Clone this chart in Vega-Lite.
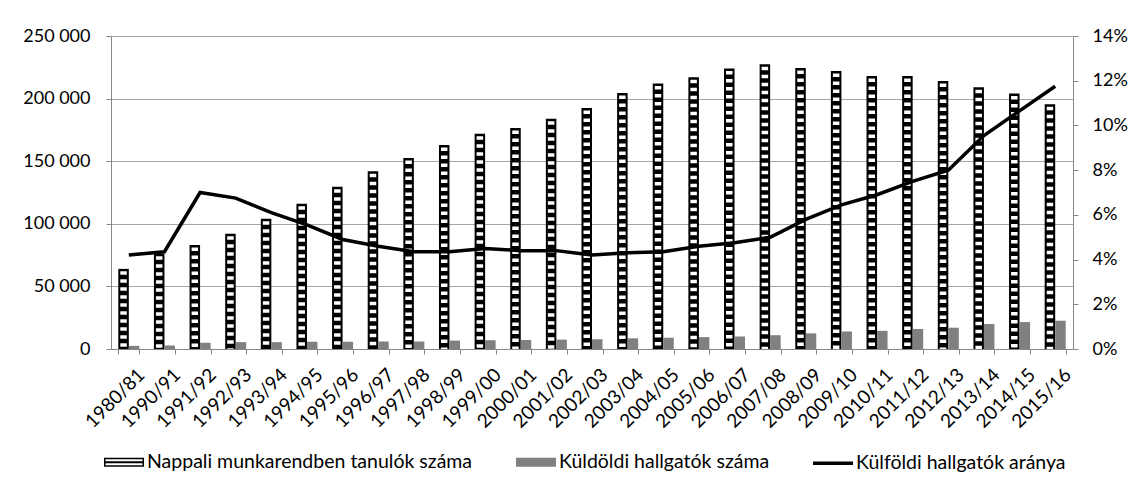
{
  "$schema": "https://vega.github.io/schema/vega-lite/v6.json",
  "width": 962,
  "height": 313,
  "autosize": {"type": "none"},
  "padding": {"left": 111, "top": 36, "right": 56, "bottom": 142},
  "background": "white",
  "config": {
    "font": "Lato",
    "view": {"stroke": null},
    "locale": {"number": {"decimal": ",", "thousands": " ", "grouping": [3], "currency": ["", ""]}},
    "axis": {"labelFont": "Lato", "labelFontSize": 18, "labelColor": "#000000", "domainColor": "#868686", "tickColor": "#868686", "gridColor": "#a6a6a6"}
  },
  "data": {
    "values": [
      {"period": "1980/81", "nappali": 64000, "kuldoldi": 2500, "arany": 0.042},
      {"period": "1990/91", "nappali": 76000, "kuldoldi": 2800, "arany": 0.0435},
      {"period": "1991/92", "nappali": 83000, "kuldoldi": 5000, "arany": 0.070},
      {"period": "1992/93", "nappali": 92000, "kuldoldi": 5500, "arany": 0.0675},
      {"period": "1993/94", "nappali": 104000, "kuldoldi": 5500, "arany": 0.061},
      {"period": "1994/95", "nappali": 116000, "kuldoldi": 5800, "arany": 0.0555},
      {"period": "1995/96", "nappali": 129500, "kuldoldi": 5800, "arany": 0.049},
      {"period": "1996/97", "nappali": 142000, "kuldoldi": 6000, "arany": 0.046},
      {"period": "1997/98", "nappali": 152500, "kuldoldi": 6000, "arany": 0.0435},
      {"period": "1998/99", "nappali": 163000, "kuldoldi": 6700, "arany": 0.0435},
      {"period": "1999/00", "nappali": 172000, "kuldoldi": 7000, "arany": 0.045},
      {"period": "2000/01", "nappali": 176500, "kuldoldi": 7200, "arany": 0.044},
      {"period": "2001/02", "nappali": 184000, "kuldoldi": 7500, "arany": 0.044},
      {"period": "2002/03", "nappali": 192500, "kuldoldi": 7800, "arany": 0.042},
      {"period": "2003/04", "nappali": 204500, "kuldoldi": 8500, "arany": 0.043},
      {"period": "2004/05", "nappali": 212000, "kuldoldi": 9000, "arany": 0.0435},
      {"period": "2005/06", "nappali": 217000, "kuldoldi": 9500, "arany": 0.046},
      {"period": "2006/07", "nappali": 224000, "kuldoldi": 10000, "arany": 0.0475},
      {"period": "2007/08", "nappali": 227500, "kuldoldi": 11000, "arany": 0.050},
      {"period": "2008/09", "nappali": 224500, "kuldoldi": 12500, "arany": 0.058},
      {"period": "2009/10", "nappali": 222000, "kuldoldi": 14000, "arany": 0.0645},
      {"period": "2010/11", "nappali": 218000, "kuldoldi": 14500, "arany": 0.069},
      {"period": "2011/12", "nappali": 218000, "kuldoldi": 16000, "arany": 0.075},
      {"period": "2012/13", "nappali": 214000, "kuldoldi": 17000, "arany": 0.080},
      {"period": "2013/14", "nappali": 209000, "kuldoldi": 20000, "arany": 0.0955},
      {"period": "2014/15", "nappali": 204000, "kuldoldi": 21500, "arany": 0.1065},
      {"period": "2015/16", "nappali": 195500, "kuldoldi": 22600, "arany": 0.1175}
    ]
  },
  "encoding": {
    "x": {
      "field": "period", "type": "nominal", "sort": null,
      "scale": {"paddingInner": 0.41, "paddingOuter": 0.205},
      "axis": {"title": null, "labelAngle": -45, "labelFontSize": 19, "tickBand": "extent", "tickSize": 5, "grid": false, "labelPadding": 11, "labelOffset": 6}
    }
  },
  "layer": [
    {
      "transform": [{"fold": ["nappali", "kuldoldi"], "as": ["series", "value"]}],
      "encoding": {
        "y": {
          "field": "value", "type": "quantitative",
          "scale": {"domain": [0, 250000]},
          "axis": {"title": null, "values": [0, 50000, 100000, 150000, 200000, 250000], "format": ",d", "grid": true, "tickSize": 5, "labelPadding": 16}
        },
        "xOffset": {"field": "series", "type": "nominal", "scale": {"domain": ["nappali", "kuldoldi"]}}
      },
      "layer": [
        {
          "mark": {"type": "bar"},
          "encoding": {
            "color": {
              "field": "series", "type": "nominal",
              "scale": {"domain": ["nappali", "kuldoldi", "arany"], "range": ["#000000", "#808080", "#000000"]},
              "legend": {
                "orient": "none", "legendX": -9, "legendY": 404,
                "direction": "horizontal", "columns": 3, "title": null,
                "symbolSize": 1600, "symbolStrokeWidth": 3.5, "labelFont": "Lato", "labelFontSize": 19.5, "labelColor": "#000000",
                "labelLimit": 600, "columnPadding": 36, "labelOffset": 1,
                "labelExpr": "datum.value == 'nappali' ? 'Nappali munkarendben tanulók száma' : (datum.value == 'kuldoldi' ? 'Küldöldi hallgatók száma' : 'Külföldi hallgatók aránya')",
                "encode": {
                  "symbols": {
                    "update": {
                      "size": {"value": 1600},
                      "strokeWidth": {"value": 3.5},
                      "shape": {"signal": "datum.value == 'arany' ? 'stroke' : (datum.value == 'nappali' ? 'M-1,-0.225H1V0.225H-1Z M-0.925,-0.15V-0.05H0.925V-0.15Z M-0.925,0.05V0.15H0.925V0.05Z' : 'M-1,-0.225H1V0.225H-1Z')"},
                      "fill": {"signal": "datum.value == 'arany' ? 'transparent' : (datum.value == 'nappali' ? '#000000' : '#808080')"},
                      "stroke": {"signal": "datum.value == 'arany' ? '#000000' : 'transparent'"},
                      "opacity": {"value": 1}
                    }
                  }
                }
              }
            }
          }
        },
        {
          "transform": [{"filter": "datum.series == 'nappali'"}],
          "mark": {"type": "rule", "color": "#ffffff", "strokeWidth": 6.5, "strokeDash": [3.5, 4.5], "strokeDashOffset": 5.5, "strokeCap": "butt"},
          "encoding": {"y2": {"datum": 0}}
        }
      ]
    },
    {
      "mark": {"type": "line", "color": "#000000", "strokeWidth": 3.5},
      "encoding": {
        "y": {
          "field": "arany", "type": "quantitative",
          "scale": {"domain": [0, 0.14]},
          "axis": {"title": null, "orient": "right", "values": [0, 0.02, 0.04, 0.06, 0.08, 0.1, 0.12, 0.14], "format": ".0%", "grid": false, "tickSize": 5, "labelPadding": 14}
        }
      }
    }
  ],
  "resolve": {"scale": {"y": "independent"}}
}
